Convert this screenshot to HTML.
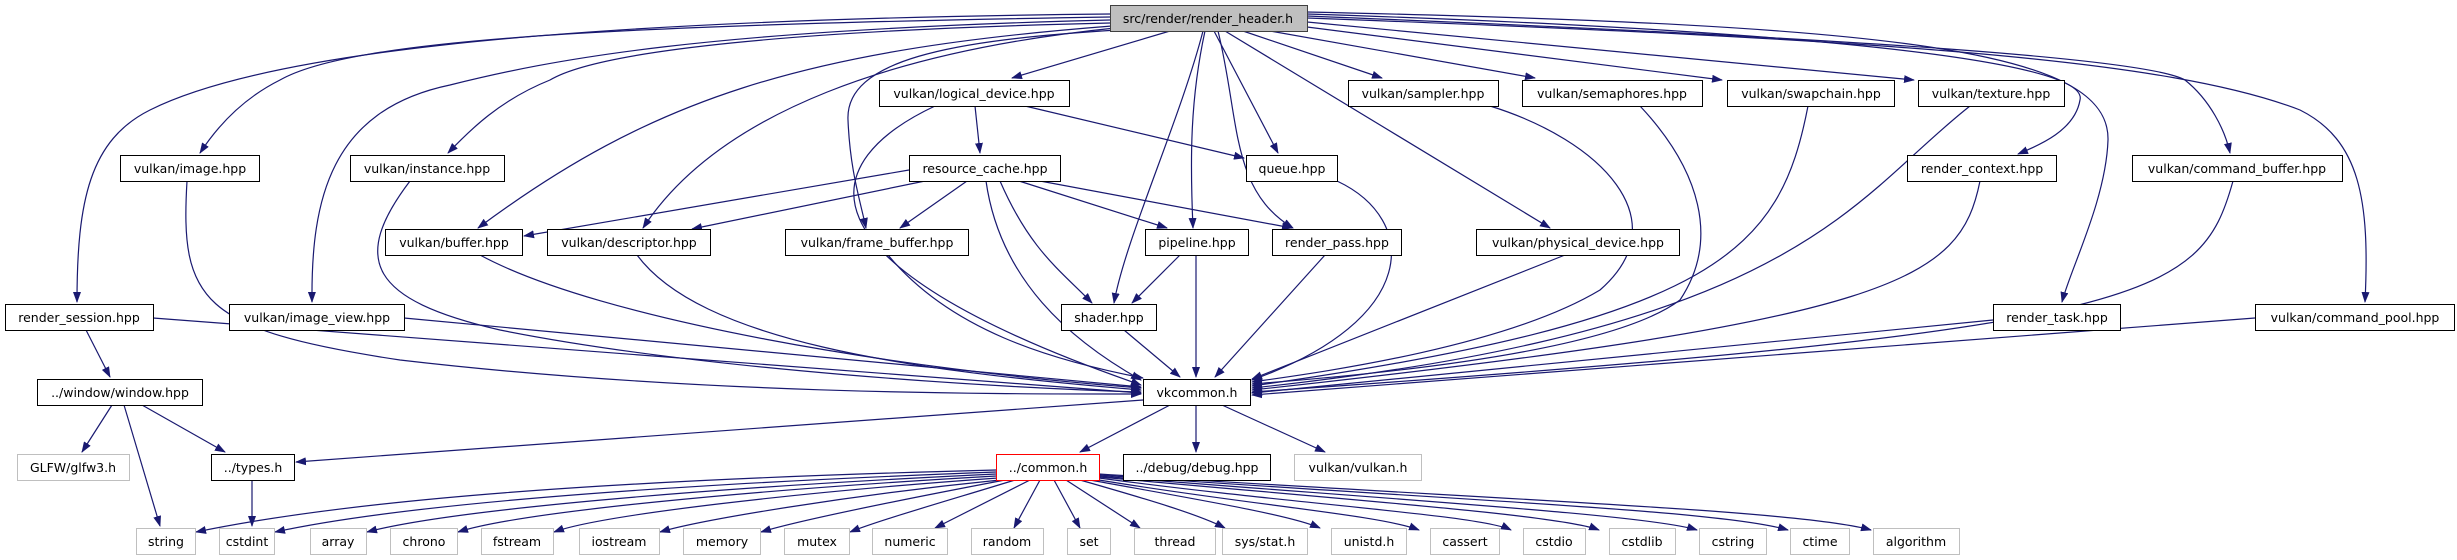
<!DOCTYPE html>
<html><head><meta charset="utf-8"><style>
html,body{margin:0;padding:0;background:#fff;width:2457px;height:560px;overflow:hidden}
svg text{font-family:"DejaVu Sans","Liberation Sans",sans-serif;font-size:12.5px;fill:#000;text-anchor:middle}
</style></head><body>
<svg width="2457" height="560" viewBox="0 0 2457 560" xmlns="http://www.w3.org/2000/svg">
<defs>
<marker id="a" markerWidth="11" markerHeight="8" refX="10" refY="4" orient="auto" markerUnits="userSpaceOnUse"><polygon points="0,0 11,4 0,8" fill="#191970"/></marker>
</defs>
<g fill="none" stroke="#191970" stroke-width="1.2" marker-end="url(#a)">
<!-- root edges -->
<path d="M1110,14 C500,20 250,60 150,110 C90,140 77,200 77,302"/>
<path d="M1110,17 C600,25 350,40 280,80 C240,100 215,130 200,153"/>
<path d="M1110,20 C700,30 550,60 450,85 C330,110 311,200 312,302"/>
<path d="M1110,23 C800,30 600,50 550,80 C500,100 470,130 448,153"/>
<path d="M1112,26 C800,50 650,100 478,228"/>
<path d="M1115,28 C900,50 720,110 643,228"/>
<path d="M1118,30 C950,40 845,60 848,120 C850,170 860,200 866,228"/>
<path d="M1170,31 L1012,78"/>
<path d="M1203,31 C1180,120 1125,240 1114,303"/>
<path d="M1205,31 C1190,100 1190,160 1193,228"/>
<path d="M1214,31 L1278,153"/>
<path d="M1218,31 C1240,120 1230,190 1293,228"/>
<path d="M1225,31 L1550,228"/>
<path d="M1243,31 L1382,78"/>
<path d="M1270,31 L1535,78"/>
<path d="M1307,27 L1722,80"/>
<path d="M1307,22 L1914,80"/>
<path d="M1307,14 C1800,30 2090,60 2080,100 C2075,130 2040,145 2018,154"/>
<path d="M1307,12 C1900,25 2110,50 2108,140 C2106,200 2070,270 2062,302"/>
<path d="M1307,16 C1900,40 2150,60 2185,80 C2210,100 2225,130 2230,153"/>
<path d="M1307,18 C1900,40 2170,60 2300,110 C2360,140 2370,200 2365,302"/>
<!-- logical_device -->
<path d="M975,106 L980,153"/>
<path d="M1025,106 L1244,158"/>
<path d="M935,106 C820,160 780,260 1141,385"/>
<!-- resource_cache -->
<path d="M909,170 L524,236"/>
<path d="M925,181 L692,229"/>
<path d="M967,181 L900,228"/>
<path d="M1019,181 L1167,228"/>
<path d="M1040,181 L1292,228"/>
<path d="M1000,181 C1030,250 1060,270 1092,303"/>
<path d="M986,181 C1000,280 1070,340 1141,380"/>
<!-- into vkcommon -->
<path d="M480,255 C600,320 900,370 1141,388"/>
<path d="M637,255 C700,340 900,370 1141,390"/>
<path d="M888,255 C950,330 1050,360 1143,378"/>
<path d="M410,181 C350,260 370,300 500,330 C700,370 1000,388 1141,392"/>
<path d="M187,181 C180,300 200,330 400,360 C700,395 1000,394 1141,394"/>
<path d="M404,318 L1141,387"/>
<path d="M153,318 L1141,393"/>
<path d="M1196,255 L1196,377"/>
<path d="M1180,255 L1132,303"/>
<path d="M1325,255 L1215,377"/>
<path d="M1124,330 L1180,377"/>
<path d="M1337,181 C1420,220 1420,320 1252,380"/>
<path d="M1565,255 L1252,379"/>
<path d="M1490,106 C1600,140 1680,220 1600,290 C1500,350 1300,375 1252,382"/>
<path d="M1640,106 C1700,170 1720,240 1680,300 C1600,360 1300,380 1252,384"/>
<path d="M1808,106 C1780,250 1720,320 1252,386"/>
<path d="M1970,106 C1850,200 1800,330 1252,388"/>
<path d="M1980,181 C1960,280 1900,320 1252,390"/>
<path d="M2233,181 C2200,300 2150,330 1252,392"/>
<path d="M1993,320 L1252,393"/>
<path d="M2255,318 L1252,395"/>
<!-- vkcommon out -->
<path d="M1170,405 L1080,452"/>
<path d="M1196,405 L1196,452"/>
<path d="M1222,405 L1325,452"/>
<path d="M1143,400 L296,462"/>
<!-- window -->
<path d="M86,330 L110,377"/>
<path d="M112,405 L82,452"/>
<path d="M124,405 L160,526"/>
<path d="M142,405 L225,452"/>
<path d="M252,480 L252,526"/>
<!-- common out -->
<path d="M996,470 C600,480 350,500 196,532"/>
<path d="M996,472 C650,485 400,505 275,532"/>
<path d="M996,474 C700,488 450,510 367,532"/>
<path d="M996,476 C750,490 520,512 458,532"/>
<path d="M998,478 C800,492 600,515 554,532"/>
<path d="M1000,480 C850,495 700,520 660,532"/>
<path d="M1005,480 C900,500 800,520 761,532"/>
<path d="M1015,480 C950,500 880,520 850,532"/>
<path d="M1030,480 L935,528"/>
<path d="M1040,480 L1014,528"/>
<path d="M1054,480 L1080,528"/>
<path d="M1066,480 L1140,528"/>
<path d="M1080,480 C1150,500 1200,515 1225,528"/>
<path d="M1090,480 C1200,500 1290,515 1320,528"/>
<path d="M1099,480 C1250,505 1380,515 1419,530"/>
<path d="M1099,478 C1300,505 1480,515 1511,530"/>
<path d="M1099,477 C1350,500 1560,515 1599,530"/>
<path d="M1099,476 C1400,500 1650,515 1697,530"/>
<path d="M1099,475 C1450,500 1720,510 1788,530"/>
<path d="M1099,474 C1500,500 1800,510 1871,530"/>
</g>
<g stroke-width="1">
<rect x="1110.5" y="5.5" width="197" height="26" fill="#bfbfbf" stroke="#404040"/>
<g fill="#fff" stroke="#000">
<rect x="879.5" y="80.5" width="190" height="26"/>
<rect x="1348.5" y="80.5" width="150" height="26"/>
<rect x="1522.5" y="80.5" width="180" height="26"/>
<rect x="1727.5" y="80.5" width="167" height="26"/>
<rect x="1918.5" y="80.5" width="146" height="26"/>
<rect x="120.5" y="155.5" width="139" height="26"/>
<rect x="350.5" y="155.5" width="154" height="26"/>
<rect x="909.5" y="155.5" width="151" height="26"/>
<rect x="1246.5" y="155.5" width="91" height="26"/>
<rect x="1907.5" y="155.5" width="149" height="26"/>
<rect x="2132.5" y="155.5" width="210" height="26"/>
<rect x="385.5" y="229.5" width="137" height="26"/>
<rect x="547.5" y="229.5" width="163" height="26"/>
<rect x="785.5" y="229.5" width="183" height="26"/>
<rect x="1145.5" y="229.5" width="103" height="26"/>
<rect x="1272.5" y="229.5" width="129" height="26"/>
<rect x="1476.5" y="229.5" width="203" height="26"/>
<rect x="5.5" y="304.5" width="148" height="26"/>
<rect x="229.5" y="304.5" width="175" height="26"/>
<rect x="1061.5" y="304.5" width="95" height="26"/>
<rect x="1993.5" y="304.5" width="127" height="26"/>
<rect x="2255.5" y="304.5" width="199" height="26"/>
<rect x="37.5" y="379.5" width="165" height="26"/>
<rect x="1143.5" y="379.5" width="107" height="26"/>
<rect x="211.5" y="454.5" width="83" height="26"/>
<rect x="1123.5" y="454.5" width="147" height="26"/>
</g>
<rect x="996.5" y="454.5" width="103" height="26" fill="#fff" stroke="#ff0000"/>
<g fill="#fff" stroke="#bfbfbf">
<rect x="17.5" y="454.5" width="112" height="26"/>
<rect x="1294.5" y="454.5" width="127" height="26"/>
<rect x="136.5" y="528.5" width="59" height="26"/>
<rect x="219.5" y="528.5" width="55" height="26"/>
<rect x="310.5" y="528.5" width="56" height="26"/>
<rect x="390.5" y="528.5" width="67" height="26"/>
<rect x="481.5" y="528.5" width="72" height="26"/>
<rect x="579.5" y="528.5" width="80" height="26"/>
<rect x="683.5" y="528.5" width="77" height="26"/>
<rect x="784.5" y="528.5" width="65" height="26"/>
<rect x="872.5" y="528.5" width="75" height="26"/>
<rect x="971.5" y="528.5" width="72" height="26"/>
<rect x="1067.5" y="528.5" width="43" height="26"/>
<rect x="1134.5" y="528.5" width="81" height="26"/>
<rect x="1222.5" y="528.5" width="85" height="26"/>
<rect x="1331.5" y="528.5" width="75" height="26"/>
<rect x="1430.5" y="528.5" width="69" height="26"/>
<rect x="1523.5" y="528.5" width="62" height="26"/>
<rect x="1609.5" y="528.5" width="66" height="26"/>
<rect x="1699.5" y="528.5" width="67" height="26"/>
<rect x="1790.5" y="528.5" width="59" height="26"/>
<rect x="1873.5" y="528.5" width="86" height="26"/>
</g>
</g>
<g>
<text x="1208" y="23">src/render/render_header.h</text>
<text x="974" y="98">vulkan/logical_device.hpp</text>
<text x="1423" y="98">vulkan/sampler.hpp</text>
<text x="1612" y="98">vulkan/semaphores.hpp</text>
<text x="1811" y="98">vulkan/swapchain.hpp</text>
<text x="1991" y="98">vulkan/texture.hpp</text>
<text x="190" y="173">vulkan/image.hpp</text>
<text x="427" y="173">vulkan/instance.hpp</text>
<text x="985" y="173">resource_cache.hpp</text>
<text x="1292" y="173">queue.hpp</text>
<text x="1982" y="173">render_context.hpp</text>
<text x="2237" y="173">vulkan/command_buffer.hpp</text>
<text x="454" y="247">vulkan/buffer.hpp</text>
<text x="629" y="247">vulkan/descriptor.hpp</text>
<text x="877" y="247">vulkan/frame_buffer.hpp</text>
<text x="1197" y="247">pipeline.hpp</text>
<text x="1337" y="247">render_pass.hpp</text>
<text x="1578" y="247">vulkan/physical_device.hpp</text>
<text x="79" y="322">render_session.hpp</text>
<text x="317" y="322">vulkan/image_view.hpp</text>
<text x="1109" y="322">shader.hpp</text>
<text x="2057" y="322">render_task.hpp</text>
<text x="2355" y="322">vulkan/command_pool.hpp</text>
<text x="120" y="397">../window/window.hpp</text>
<text x="1197" y="397">vkcommon.h</text>
<text x="73" y="472" fill="#444">GLFW/glfw3.h</text>
<text x="253" y="472">../types.h</text>
<text x="1048" y="472">../common.h</text>
<text x="1197" y="472">../debug/debug.hpp</text>
<text x="1358" y="472">vulkan/vulkan.h</text>
<text x="166" y="546">string</text>
<text x="247" y="546">cstdint</text>
<text x="338" y="546">array</text>
<text x="424" y="546">chrono</text>
<text x="517" y="546">fstream</text>
<text x="619" y="546">iostream</text>
<text x="722" y="546">memory</text>
<text x="817" y="546">mutex</text>
<text x="910" y="546">numeric</text>
<text x="1007" y="546">random</text>
<text x="1089" y="546">set</text>
<text x="1175" y="546">thread</text>
<text x="1265" y="546">sys/stat.h</text>
<text x="1369" y="546">unistd.h</text>
<text x="1465" y="546">cassert</text>
<text x="1554" y="546">cstdio</text>
<text x="1642" y="546">cstdlib</text>
<text x="1733" y="546">cstring</text>
<text x="1820" y="546">ctime</text>
<text x="1916" y="546">algorithm</text>
</g>
</svg>
</body></html>
